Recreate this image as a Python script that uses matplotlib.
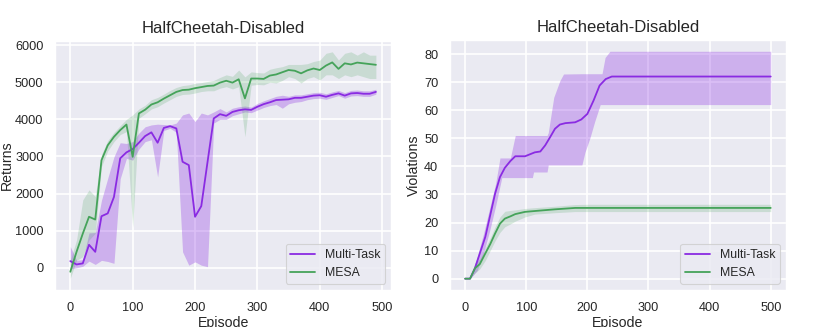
import matplotlib

matplotlib.use("Agg")

import matplotlib.pyplot as plt
import numpy as np
import seaborn as sns

# ---- returns (left panel), one value every 10 episodes ----
episodes = np.arange(0, 500, 10)

mt_ret = [180, 90, 118, 620, 430, 1390, 1466, 1910, 2950, 3110,
          3200, 3370, 3550, 3650, 3370, 3770, 3817, 3755, 2857, 2767,
          1375, 1662, 2847, 4025, 4140, 4095, 4200, 4245, 4270, 4255,
          4340, 4410, 4460, 4520, 4530, 4540, 4580, 4580, 4610, 4640,
          4650, 4610, 4660, 4700, 4640, 4700, 4710, 4690, 4690, 4740]
mt_ret_lo = [-30, 0, 40, 180, 90, 200, 170, 120, 2400, 2950,
             2900, 3200, 3400, 3450, 2450, 3700, 3760, 3650, 430, 70,
             160, 70, 30, 3900, 4000, 4000, 4100, 4150, 4200, 4180,
             4250, 4320, 4370, 4400, 4300, 4420, 4460, 4480, 4530, 4560,
             4570, 4540, 4590, 4640, 4570, 4630, 4640, 4620, 4620, 4680]
mt_ret_hi = [570, 200, 220, 940, 950, 1820, 2410, 2990, 3370, 3350,
             3400, 3630, 3800, 3850, 3870, 3860, 3850, 3900, 4120, 4170,
             3940, 4170, 4120, 4200, 4290, 4200, 4300, 4340, 4360, 4330,
             4430, 4500, 4560, 4620, 4650, 4620, 4660, 4660, 4690, 4720,
             4730, 4690, 4740, 4780, 4720, 4780, 4790, 4770, 4770, 4810]

mesa_ret = [-107, 430, 920, 1375, 1300, 2900, 3300, 3530, 3710, 3860,
            2990, 4160, 4260, 4400, 4460, 4560, 4650, 4740, 4790, 4800,
            4840, 4870, 4900, 4910, 4990, 5040, 4990, 5080, 4565, 5100,
            5100, 5090, 5180, 5210, 5270, 5330, 5310, 5240, 5320, 5370,
            5330, 5450, 5535, 5360, 5510, 5480, 5530, 5510, 5490, 5470]
mesa_ret_lo = [-280, 200, 300, 750, 930, 2730, 3150, 3400, 3590, 3670,
               1100, 4030, 4150, 4280, 4340, 4440, 4530, 4620, 4670, 4680,
               4710, 4750, 4770, 4770, 4840, 4880, 4820, 4880, 3530, 4920,
               4940, 4930, 5000, 4980, 5050, 5150, 5100, 4980, 5100, 5150,
               5060, 5200, 5200, 5100, 5200, 5150, 5200, 5150, 5100, 5100]
mesa_ret_hi = [200, 750, 1830, 2100, 1920, 3050, 3430, 3650, 3830, 4000,
               4120, 4280, 4380, 4530, 4590, 4680, 4780, 4860, 4910, 4930,
               4970, 4990, 5020, 5050, 5130, 5200, 5160, 5330, 5145, 5280,
               5260, 5250, 5350, 5390, 5420, 5480, 5480, 5480, 5500, 5560,
               5595, 5780, 5820, 5600, 5780, 5820, 5730, 5820, 5730, 5730]

# ---- violations (right panel), breakpoints ----
mt_viol_ep = [0, 8, 16, 24, 33, 41, 49, 57, 65, 74, 82, 98, 106, 114, 123,
              131, 139, 147, 155, 164, 180, 190, 200, 210, 220, 230, 240, 500]
mt_viol = [0, 0, 3.7, 9, 14.9, 22.6, 30.3, 36.2, 39.5, 41.9, 43.6, 43.6, 44.3,
           45, 45.3, 47.5, 50.4, 53.4, 54.9, 55.4, 55.7, 56.7, 58.7, 63.4,
           68.8, 71.1, 72, 72]

mt_band_ep = [0, 8, 20, 30, 40, 50, 57, 60, 74, 82, 110, 112, 134, 136, 145,
              155, 161, 191, 196, 204, 212, 221, 224, 229, 237, 500]
mt_viol_lo = [0, 0, 3, 9, 17, 26, 33, 36, 36, 36, 36, 38, 38, 40.5, 40.5,
              40.5, 40.5, 40.5, 45, 50, 56, 62, 62, 62, 62, 62]
mt_viol_hi = [0, 0, 8, 16, 25, 34, 43, 43, 43, 51, 51, 51, 51, 52, 64.6,
              70.5, 72.9, 73, 73, 73, 73, 73, 73, 78.8, 81, 81]

mesa_viol_ep = [0, 8, 16, 24, 33, 41, 49, 57, 65, 74, 82, 98, 114, 147, 180,
                200, 500]
mesa_viol = [0, 0, 3.7, 5.2, 9, 12.3, 16.1, 19.6, 21.4, 22.2, 23, 23.8, 24.1,
             24.7, 25.2, 25.2, 25.2]
mesa_viol_lo = [0, 0, 2, 3.5, 6.5, 10, 13.5, 16.5, 18.5, 19.5, 20.5, 22, 23,
                23.5, 23.9, 23.9, 23.9]
mesa_viol_hi = [0, 0, 5.5, 7, 11, 14.5, 18.5, 22, 24, 24.3, 24.5, 25, 25.3,
                25.8, 26.4, 26.5, 26.5]

MT_COLOR = "#8a2be2"
MESA_COLOR = "#45a35a"

sns.set_theme(context="paper", style="darkgrid")
plt.rcParams["font.family"] = ["Liberation Sans", "DejaVu Sans"]
plt.rcParams["xtick.labelsize"] = 9.2
plt.rcParams["ytick.labelsize"] = 9.2
plt.rcParams["axes.labelsize"] = 10.2
plt.rcParams["grid.linewidth"] = 1.2

fig = plt.figure(figsize=(8.3, 3.27), dpi=100)
ax1 = fig.add_axes([0.0663, 0.113, 0.405, 0.762])
ax2 = fig.add_axes([0.542, 0.113, 0.405, 0.765])


def draw(ax, x, y, lo, hi, color, label, band_x=None, band_alpha=0.3):
    bx = x if band_x is None else band_x
    ax.fill_between(bx, lo, hi, color=color, alpha=band_alpha, linewidth=0)
    ax.plot(x, y, color=color, linewidth=1.3, label=label)


draw(ax1, episodes, mt_ret, mt_ret_lo, mt_ret_hi, MT_COLOR, "Multi-Task")
draw(ax1, episodes, mesa_ret, mesa_ret_lo, mesa_ret_hi, MESA_COLOR, "MESA",
     band_alpha=0.2)
ax1.set_xlim(-24.5, 514.5)
ax1.set_ylim(-600, 6115)
ax1.set_xticks([0, 100, 200, 300, 400, 500])
ax1.set_ylabel("Returns", labelpad=1)

draw(ax2, mt_viol_ep, mt_viol, mt_viol_lo, mt_viol_hi, MT_COLOR, "Multi-Task",
     band_x=mt_band_ep)
draw(ax2, mesa_viol_ep, mesa_viol, mesa_viol_lo, mesa_viol_hi, MESA_COLOR,
     "MESA", band_alpha=0.2)
ax2.set_xlim(-25, 525)
ax2.set_ylim(-4.05, 85.05)
ax2.set_xticks([0, 100, 200, 300, 400, 500])
ax2.set_ylabel("Violations", labelpad=2)

for ax in (ax1, ax2):
    ax.set_title("HalfCheetah-Disabled", fontsize=12)
    ax.set_xlabel("Episode", labelpad=2)
    ax.legend(loc="lower right", fontsize=8.8)

fig.savefig("out.png", dpi=100)
